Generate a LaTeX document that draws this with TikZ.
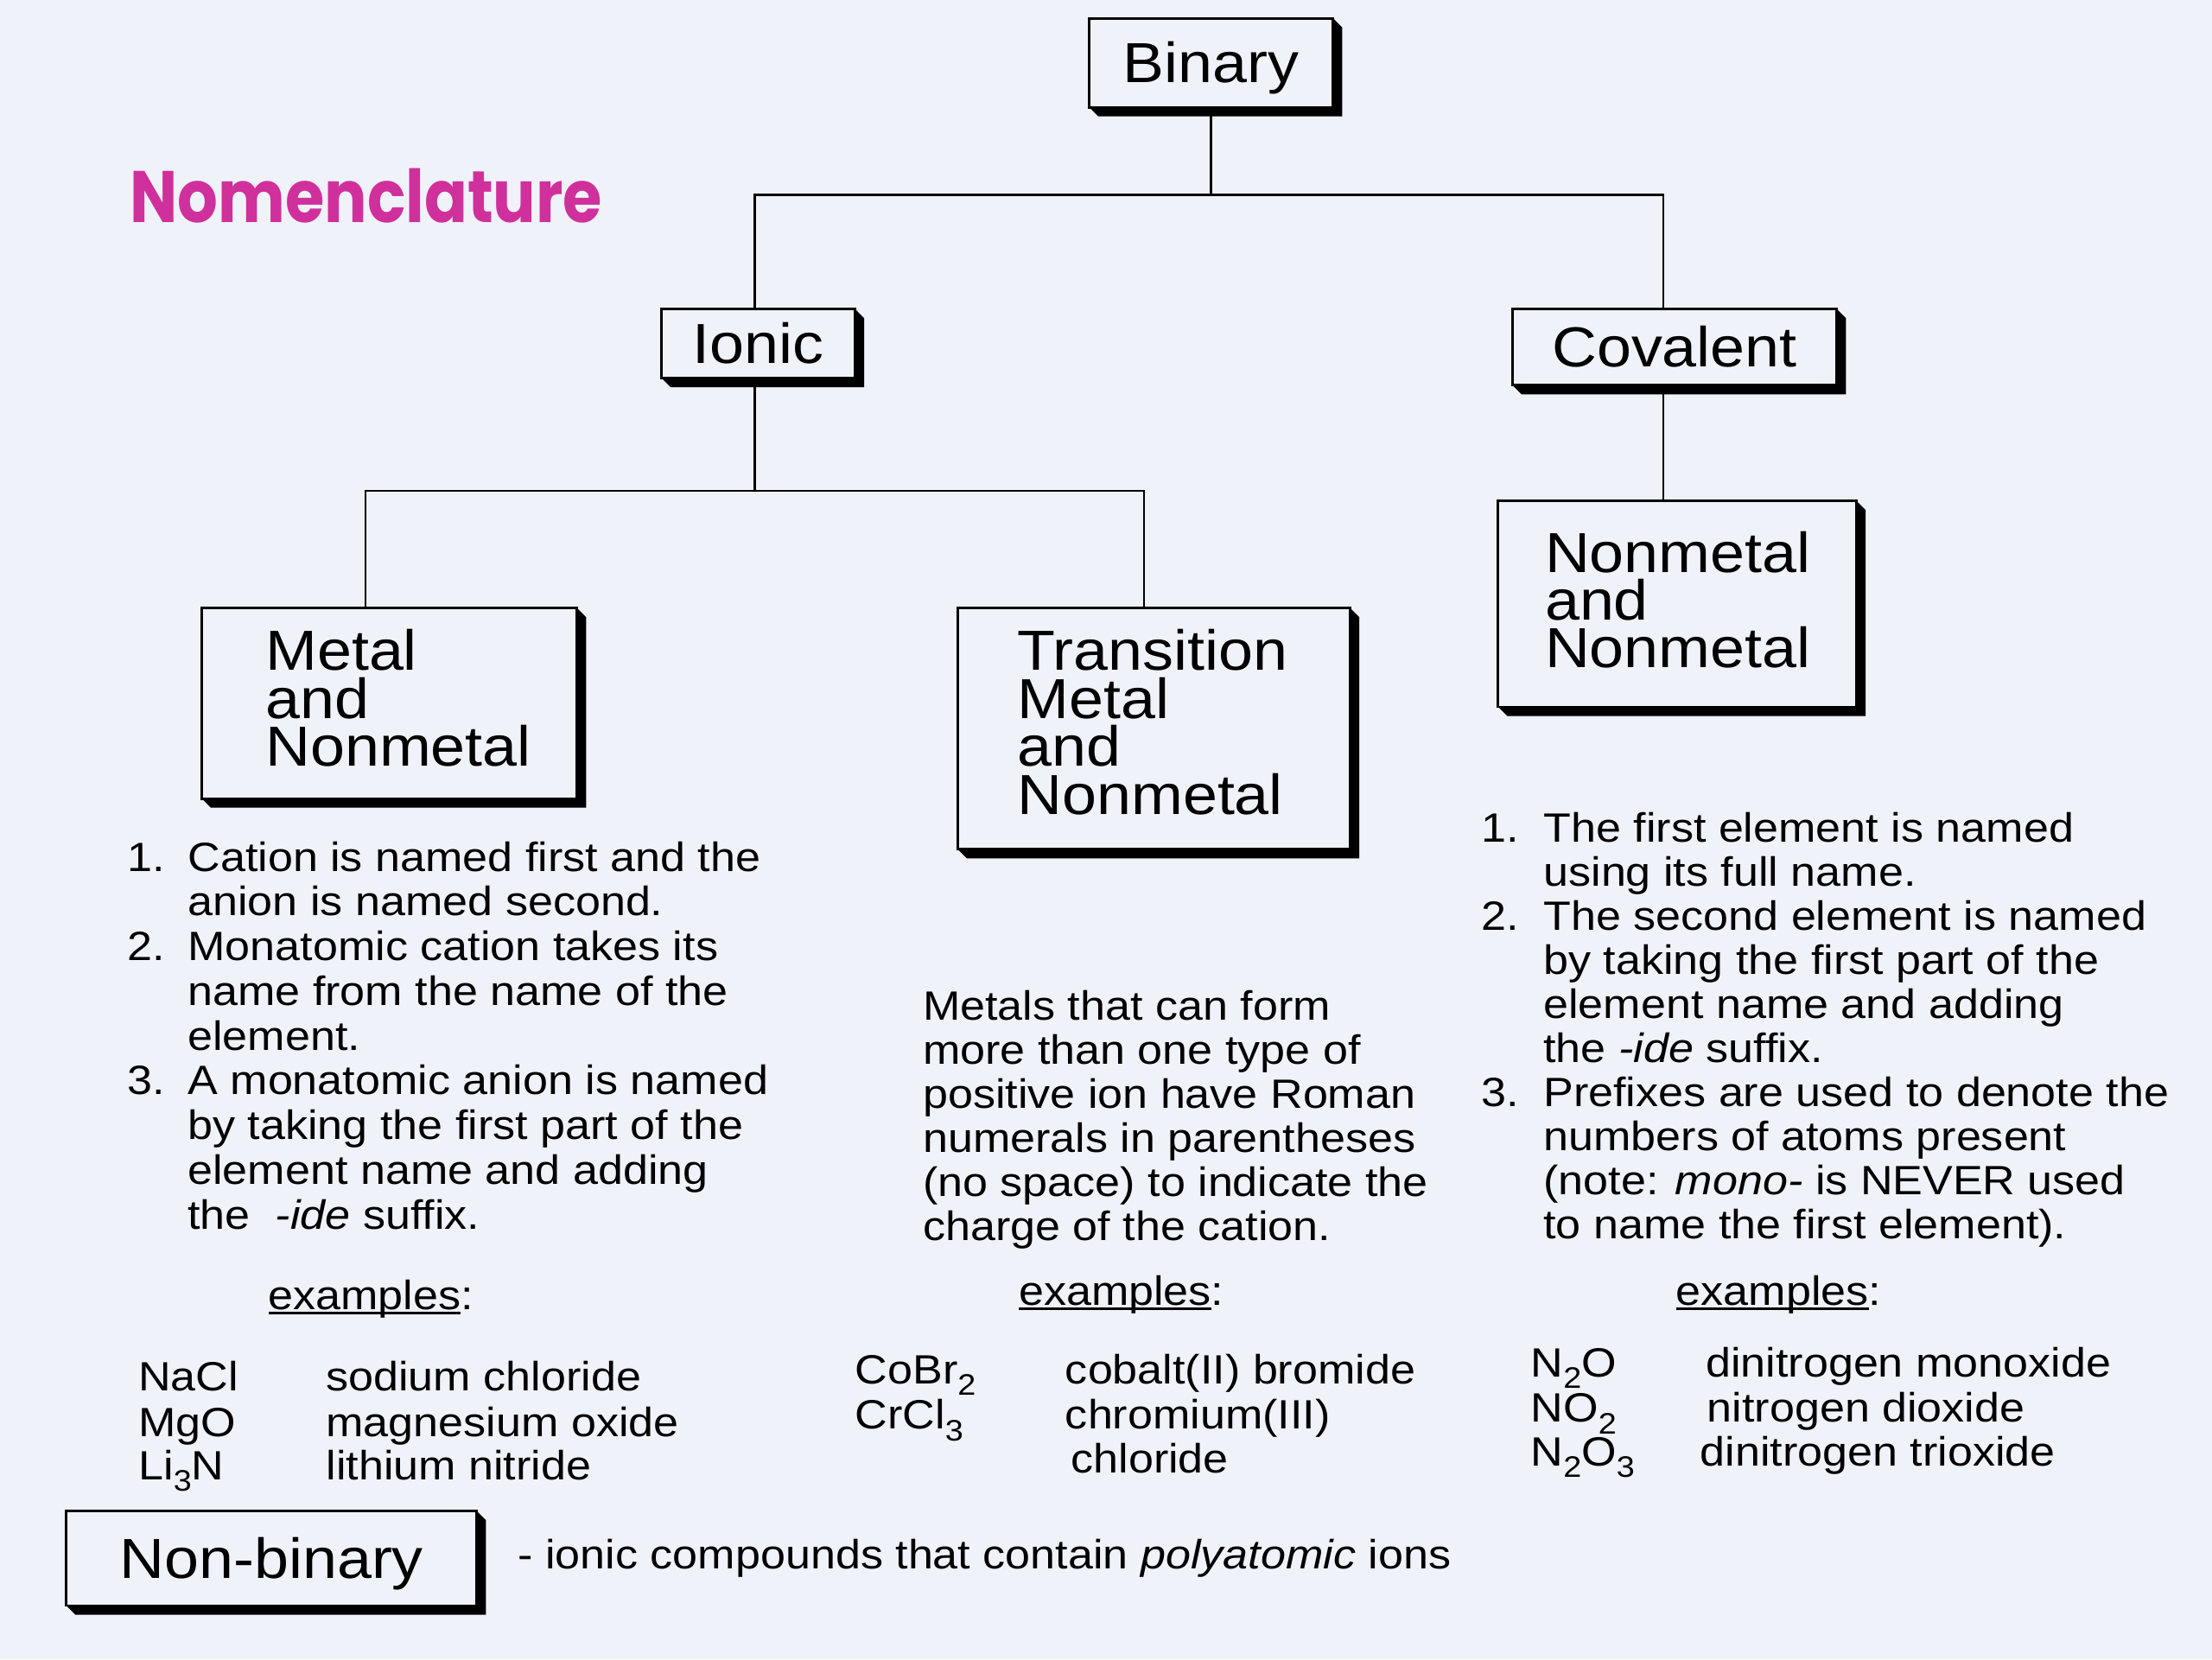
\documentclass[tikz,border=0pt]{standalone}
\usepackage{fontspec}
\setmainfont{Liberation Sans}[FakeStretch=1.1]
\newfontfamily\titlefont{Poppins}
\definecolor{bg}{RGB}{240,242,250}
\definecolor{titlepink}{RGB}{208,48,155}
\newcommand\chsub[1]{\raisebox{-0.28em}{\fontsize{21}{21}\selectfont #1}}
\newcommand\myul[1]{\setbox0=\hbox{#1}\rlap{\rule[-3.5pt]{\wd0}{1.6pt}}\box0}
\newcommand\boxshadow[1]{\fill (#1.north east) -- ++(6.5,6.5) -- ([shift={(6.5,6.5)}]#1.south east) -- ([shift={(6.5,6.5)}]#1.south west) -- (#1.south west) -- (#1.south east) -- cycle;}
\begin{document}
\begin{tikzpicture}[x=1pt,y=-1pt,
  box/.style={draw, line width=1.8pt, outer sep=0pt, inner sep=0pt},
  boxfont/.style={font=\fontsize{40}{34}\selectfont, text height=28pt, text depth=0pt},
  boxline/.style={font=\fontsize{40}{34}\selectfont, inner sep=0pt, anchor=base west, text height=26pt, text depth=0pt},
  body/.style={font=\fontsize{29}{32}\selectfont, inner sep=0pt, anchor=base west},
  formula/.style={body, text height=21pt, text depth=3pt},
  conn/.style={line width=1.5pt}]
\fill[bg] (0,0) rectangle (1568,1176);
\useasboundingbox (0,0) rectangle (1568,1176);

% title
\node[anchor=base west, inner sep=0pt, text=titlepink, font=\titlefont\bfseries\fontsize{45}{45}\selectfont] (title) at (92,158) {\scalebox{1}[1.15]{Nomenclature}};

% boxes
\node[box, boxfont, minimum width=173pt, minimum height=63pt] (binary) at (858.5,44.5) {Binary};
\node[box, boxfont, minimum width=137pt, minimum height=49pt] (ionic) at (537.5,243.5) {Ionic};
\node[box, boxfont, minimum width=230pt, minimum height=54pt] (covalent) at (1187,246) {Covalent};
\node[box, minimum width=266pt, minimum height=135pt] (metal) at (276,498.5) {};
\node[box, minimum width=278pt, minimum height=171pt] (trans) at (818,516.5) {};
\node[box, minimum width=254pt, minimum height=146pt] (nonmetal) at (1189,428) {};
\node[box, boxfont, minimum width=291pt, minimum height=67pt] (nonbinary) at (192.5,1104.5) {Non-binary};

\boxshadow{binary}
\boxshadow{ionic}
\boxshadow{covalent}
\boxshadow{metal}
\boxshadow{trans}
\boxshadow{nonmetal}
\boxshadow{nonbinary}

% box texts
\foreach \t [count=\i] in {Metal,and,Nonmetal}
  \node[boxline] (mt\i) at (188,{475+(\i-1)*34}) {\t};
\foreach \t [count=\i] in {Transition,Metal,and,Nonmetal}
  \node[boxline] (tt\i) at (721,{475+(\i-1)*34}) {\t};
\foreach \t [count=\i] in {Nonmetal,and,Nonmetal}
  \node[boxline] (nt\i) at (1095,{406+(\i-1)*33.5}) {\t};

% connectors
\draw[conn] (binary.south) -- ([shift={(0,62)}]binary.south) coordinate (jb);
\draw[conn] ([xshift=-2.5pt]ionic.north) |- (jb) -| ([xshift=-8pt]covalent.north);
\draw[conn] ([xshift=-2.5pt]ionic.south) -- ([shift={(-2.5,80)}]ionic.south) coordinate (ji);
\draw[conn] ([xshift=-17pt]metal.north) |- (ji) -| ([xshift=-7pt]trans.north);
\draw[conn] ([xshift=-8pt]covalent.south) -- ([xshift=-10pt]nonmetal.north);

% left list
\node[body] (ln1) at (90,617.5) {1.};
\node[body] (ln2) at (90,680.9) {2.};
\node[body] (ln3) at (90,776) {3.};
\foreach \t [count=\i] in {{Cation is named first and the},{anion is named second.},{Monatomic cation takes its},{name from the name of the},{element.},{A monatomic anion is named},{by taking the first part of the},{element name and adding},{the \ \textit{-ide} suffix.}}
  \node[body] (la\i) at (133,{617.5+(\i-1)*31.7}) {\t};

% middle paragraph
\foreach \t [count=\i] in {{Metals that can form},{more than one type of},{positive ion have Roman},{numerals in parentheses},{(no space) to indicate the},{charge of the cation.}}
  \node[body] (ma\i) at (654,{723+(\i-1)*31.2}) {\t};

% right list
\node[body] (rn1) at (1050,597) {1.};
\node[body] (rn2) at (1050,659.4) {2.};
\node[body] (rn3) at (1050,784.2) {3.};
\foreach \t [count=\i] in {{The first element is named},{using its full name.},{The second element is named},{by taking the first part of the},{element name and adding},{the \textit{-ide} suffix.},{Prefixes are used to denote the},{numbers of atoms present},{(note: \textit{mono-} is NEVER used},{to name the first element).}}
  \node[body] (ra\i) at (1094,{597+(\i-1)*31.2}) {\t};

% examples
\node[body] (ex1) at (190,928) {\myul{examples}:};
\node[body] (ex2) at (722,925) {\myul{examples}:};
\node[body] (ex3) at (1188,925) {\myul{examples}:};

\node[formula] (f1) at (98,986) {NaCl};
\node[formula] (f2) at (98,1018) {MgO};
\node[formula] (f3) at (98,1049) {Li\chsub{3}N};
\node[body] (n1) at (231,986) {sodium chloride};
\node[body] (n2) at (231,1018) {magnesium oxide};
\node[body] (n3) at (231,1049) {lithium nitride};

\node[formula] (f4) at (606,981) {CoBr\chsub{2}};
\node[formula] (f5) at (606,1013) {CrCl\chsub{3}};
\node[body] (n4) at (755,981) {cobalt(II) bromide};
\node[body] (n5) at (755,1013) {chromium(III)};
\node[body] (n6) at (759,1044) {chloride};

\node[formula] (f6) at (1085,976) {N\chsub{2}O};
\node[formula] (f7) at (1085,1008) {NO\chsub{2}};
\node[formula] (f8) at (1085,1039) {N\chsub{2}O\chsub{3}};
\node[body] (n7) at (1209,976) {dinitrogen monoxide};
\node[body] (n8) at (1210,1008) {nitrogen dioxide};
\node[body] (n9) at (1205,1039) {dinitrogen trioxide};

% non-binary caption
\node[body] (nbcap) at (367,1112) {- ionic compounds that contain \textit{polyatomic} ions};
\end{tikzpicture}
\end{document}
